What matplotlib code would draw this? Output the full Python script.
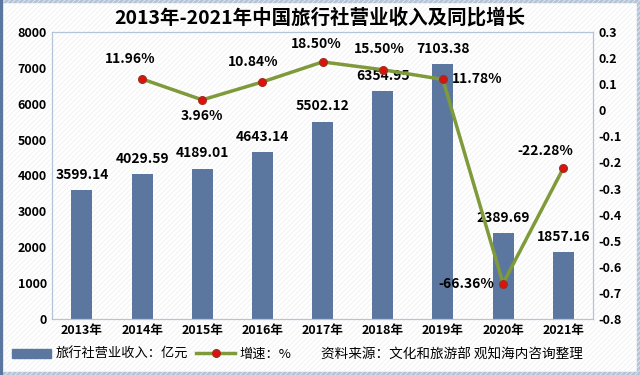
import matplotlib
matplotlib.use("Agg")
from matplotlib import pyplot as plt
from matplotlib.patches import Rectangle
from matplotlib.lines import Line2D
import numpy as np

plt.rcParams['font.family'] = ['Noto Sans CJK SC', 'DejaVu Sans']

years = ['2013年', '2014年', '2015年', '2016年', '2017年', '2018年', '2019年', '2020年', '2021年']
revenue = [3599.14, 4029.59, 4189.01, 4643.14, 5502.12, 6354.95, 7103.38, 2389.69, 1857.16]
growth = [None, 0.1196, 0.0396, 0.1084, 0.1850, 0.1550, 0.1178, -0.6636, -0.2228]
growth_labels = ['', '11.96%', '3.96%', '10.84%', '18.50%', '15.50%', '11.78%', '-66.36%', '-22.28%']

bar_color = '#5b77a0'
line_color = '#7f9a3a'

fig = plt.figure(figsize=(6.4, 3.75), dpi=100)
fig.patch.set_facecolor('white')

# hatched background
bg = fig.add_axes([0, 0, 1, 1], zorder=-10)
bg.set_xlim(0, 640)
bg.set_ylim(375, 0)
bg.axis('off')
for k in range(-400, 1100, 5):
    bg.plot([k, k - 375], [0, 375], color='#eeeeee', lw=0.5)
bg.add_patch(Rectangle((1, 1), 637, 372, fill=False, ec='#b4c4d8', lw=2.5))
bg.plot([1, 1], [0, 375], color='#5b77a0', lw=3)

ax = fig.add_axes([0.081, 0.149, 0.846, 0.766])
ax.patch.set_alpha(0)
x = np.arange(len(years))
bars = ax.bar(x, revenue, width=0.35, color=bar_color, zorder=2)
ax.set_xlim(-0.5, len(years) - 0.5)
ax.set_ylim(0, 8000)
ax.set_yticks(range(0, 8001, 1000))
ax.set_xticks(x)
ax.set_xticklabels(years)
for s in ax.spines.values():
    s.set_color('#b4c4d8')
ax.tick_params(length=0, labelsize=9)
for lab in ax.get_xticklabels() + ax.get_yticklabels():
    lab.set_fontweight('bold')
for i, v in enumerate(revenue):
    ax.text(i, v + 230, f'{v:.2f}', ha='center', va='bottom', fontsize=10, fontweight='bold')

ax2 = ax.twinx()
gx = [i for i, g in enumerate(growth) if g is not None]
gy = [g for g in growth if g is not None]
ax2.plot(gx, gy, color=line_color, lw=2.5, marker='o', ms=5.5, mfc='#e0100c', mec='#a03020', zorder=3)
ax2.set_ylim(-0.8, 0.3)
ax2.set_yticks(np.round(np.arange(-0.8, 0.31, 0.1), 1))
ax2.set_yticklabels(['-0.8', '-0.7', '-0.6', '-0.5', '-0.4', '-0.3', '-0.2', '-0.1', '0', '0.1', '0.2', '0.3'])
ax2.tick_params(length=0, labelsize=9)
for lab in ax2.get_yticklabels():
    lab.set_fontweight('bold')
for s in ax2.spines.values():
    s.set_color('#b4c4d8')

offsets = {1: (-0.2, 0.075, 'center'), 2: (0, -0.06, 'center'), 3: (-0.15, 0.075, 'center'),
           4: (-0.1, 0.07, 'center'), 5: (-0.05, 0.08, 'center'), 6: (0.15, 0.0, 'left'),
           7: (-0.15, 0.0, 'right'), 8: (-0.3, 0.065, 'center')}
for i in gx:
    dx, dy, ha = offsets[i]
    ax2.text(i + dx, growth[i] + dy, growth_labels[i], ha=ha, va='center', fontsize=10, fontweight='bold')

fig.text(0.5, 0.952, '2013年-2021年中国旅行社营业收入及同比增长', ha='center', va='center',
         fontsize=14, fontweight='bold')

handles = [Rectangle((0, 0), 1, 1, color=bar_color),
           Line2D([], [], color=line_color, lw=2.5, marker='o', ms=5.5, mfc='#e0100c', mec='#a03020')]
fig.legend(handles, ['旅行社营业收入：亿元', '增速：%'], loc='center left', bbox_to_anchor=(0.0, 0.055),
           ncol=2, frameon=False, fontsize=9.5, handlelength=3, columnspacing=0.6, handletextpad=0.3)
fig.text(0.91, 0.055, '资料来源：文化和旅游部 观知海内咨询整理', ha='right', va='center', fontsize=9.8)

fig.savefig('out.png', dpi=100)
